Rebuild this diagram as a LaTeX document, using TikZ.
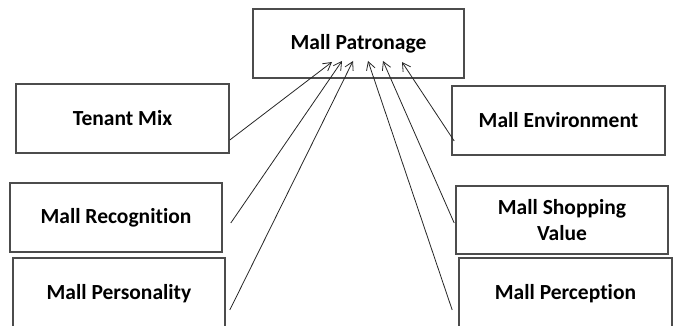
\documentclass[tikz,border=0pt]{standalone}
\usepackage{fontspec}
\setmainfont{Carlito}[Ligatures=NoCommon]
\usetikzlibrary{arrows.meta,calc}
\tikzset{
  box/.style={draw=black!70, line width=1.6pt, rectangle, inner sep=0pt, align=center,
    font=\fontsize{21.5}{26}\selectfont\bfseries, text=black},
  lowbox/.style={box, text height=15pt, text depth=9pt},
  link/.style={draw=black!85, line width=0.8pt, -{Straight Barb[length=8pt,width=9pt]}}
}
\begin{document}
\begin{tikzpicture}[x=1pt,y=-1pt]
\useasboundingbox (0,0) rectangle (673,326);
\clip (0,0) rectangle (673,326);
\node[box, minimum width=211pt, minimum height=69pt] (mp) at (358.5,43.5) {Mall Patronage};
\node[box, minimum width=213pt, minimum height=69pt] (tm) at (122.5,118.5) {Tenant Mix};
\node[box, minimum width=212pt, minimum height=69pt] (mr) at (116,217.5) {Mall Recognition};
\node[lowbox, minimum width=212pt, minimum height=76pt] (mpe) at (119,296) {Mall Personality};
\node[box, minimum width=213pt, minimum height=69pt] (me) at (558.5,120.5) {Mall Environment};
\node[box, minimum width=212pt, minimum height=68pt] (ms) at (562,220) {Mall Shopping\\Value};
\node[lowbox, minimum width=213pt, minimum height=76pt] (mpc) at (565.5,296) {Mall Perception};
\coordinate (t1) at ($(mp.center)+(-26.5,18.5)$);
\coordinate (t2) at ($(mp.center)+(-16.5,17.5)$);
\coordinate (t3) at ($(mp.center)+(-5.5,17.5)$);
\coordinate (t4) at ($(mp.center)+(9.5,17.5)$);
\coordinate (t5) at ($(mp.center)+(24.5,17.5)$);
\coordinate (t6) at ($(mp.center)+(43.5,18.5)$);
\draw[link] ($(tm.east)+(0,21.5)$) -- (t1);
\draw[link] ($(mr.east)+(8,5.5)$) -- (t2);
\draw[link] ($(mpe.east)+(4,14)$) -- (t3);
\draw[link] ($(mpc.west)+(-6,14)$) -- (t4);
\draw[link] ($(ms.west)+(-1,3)$) -- (t5);
\draw[link] ($(me.west)+(3,20.5)$) -- (t6);
\end{tikzpicture}
\end{document}
